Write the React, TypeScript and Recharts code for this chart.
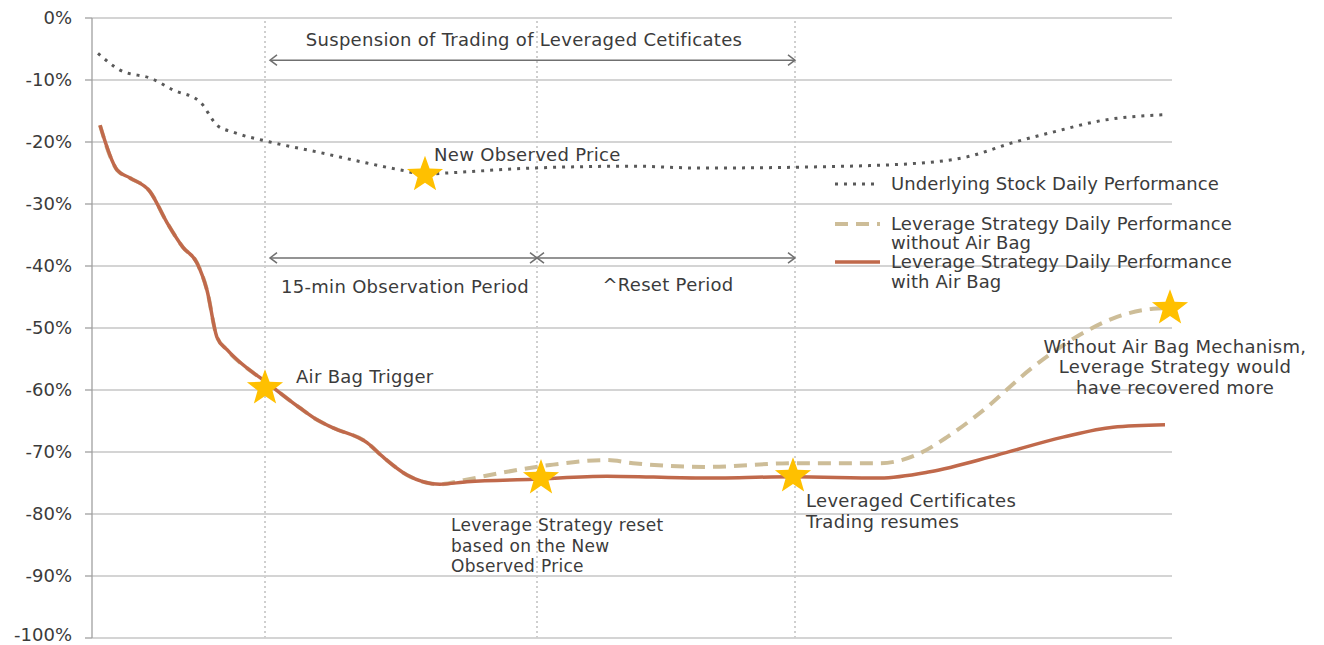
import React from "react";
import {
  ComposedChart,
  Line,
  Scatter,
  XAxis,
  YAxis,
  CartesianGrid,
  ReferenceLine,
  ReferenceDot,
  Legend
} from "recharts";

// x is a time step (no axis shown), y is daily performance in %
const Y_TICKS = [0, -10, -20, -30, -40, -50, -60, -70, -80, -90, -100];

const UNDERLYING_T = [0.6, 2.8, 6.0, 8.1, 10.8, 12.5, 14.1, 17.8, 22.5, 27.5, 30.8, 33.3, 35.5, 44.1, 54.1, 60.8, 72.8, 82.8, 87.5, 92.1, 96.1, 101.1, 107.3];
const UNDERLYING_V = [-5.7, -8.4, -9.8, -11.6, -13.5, -17.3, -18.4, -20.0, -21.6, -23.4, -24.5, -25.2, -25.0, -24.2, -23.9, -24.2, -24.0, -23.4, -22.4, -20.1, -18.4, -16.5, -15.6];

const AIRBAG_T = [0.8, 2.5, 3.8, 5.8, 7.5, 9.1, 10.5, 11.5, 12.5, 13.5, 17.8, 20.8, 22.5, 24.1, 27.5, 29.1, 31.5, 34.8, 37.5, 44.1, 51.5, 60.8, 70.1, 78.8, 83.8, 90.5, 97.1, 102.1, 107.3];
const AIRBAG_V = [-17.3, -24.5, -25.8, -28.0, -33.0, -37.0, -39.5, -43.9, -51.5, -53.5, -59.2, -62.9, -64.8, -66.1, -68.5, -70.8, -73.7, -75.2, -74.8, -74.4, -73.9, -74.2, -74.0, -74.2, -73.2, -70.5, -67.6, -66.0, -65.6];

const NO_AIRBAG_T = [0.8, 2.5, 3.8, 5.8, 7.5, 9.1, 10.5, 11.5, 12.5, 13.5, 17.8, 20.8, 22.5, 24.1, 27.5, 29.1, 31.5, 34.8, 37.3, 40.8, 45.8, 51.5, 54.1, 61.5, 70.1, 78.8, 82.8, 85.5, 88.8, 94.1, 99.1, 102.5, 106.1, 107.3];
const NO_AIRBAG_V = [-17.3, -24.5, -25.8, -28.0, -33.0, -37.0, -39.5, -43.9, -51.5, -53.5, -59.2, -62.9, -64.8, -66.1, -68.5, -70.8, -73.7, -75.2, -74.5, -73.4, -72.1, -71.3, -71.8, -72.4, -71.8, -71.8, -70.2, -67.6, -63.7, -56.3, -50.8, -48.2, -46.9, -46.8];

const STAR_T = [17.3, 33.3, 44.9, 70.1, 107.8];
const STAR_V = [-59.7, -25.3, -74.2, -73.9, -46.8];

// trigger, reset, trading resumes
const EVENT_T = [17.3, 44.5, 70.3];

const SERIES_NAMES = [
  "Underlying Stock Daily Performance",
  "Leverage Strategy Daily Performance\nwithout Air Bag",
  "Leverage Strategy Daily Performance\nwith Air Bag"
];

const zip = (ts: number[], vs: number[]) => ts.map((t, i) => ({ t, v: vs[i] }));
const underlying = zip(UNDERLYING_T, UNDERLYING_V);
const withAirBag = zip(AIRBAG_T, AIRBAG_V);
const withoutAirBag = zip(NO_AIRBAG_T, NO_AIRBAG_V);
const stars = zip(STAR_T, STAR_V);

const FONT = "'DejaVu Sans', Verdana, sans-serif";
const TEXT = "#3b3b3b";

interface Note {
  t: number;
  v: number;
  lines: string[];
  anchor: "start" | "middle" | "end";
  size?: number;
}

const NOTES: Note[] = [
  { t: 43.2, v: -4.5, lines: ["Suspension of Trading of Leveraged Cetificates"], anchor: "middle" },
  { t: 34.2, v: -23.1, lines: ["New Observed Price"], anchor: "start" },
  { t: 31.3, v: -44.4, lines: ["15-min Observation Period"], anchor: "middle" },
  { t: 57.6, v: -44.0, lines: ["^Reset Period"], anchor: "middle" },
  { t: 20.4, v: -58.9, lines: ["Air Bag Trigger"], anchor: "start" },
  { t: 35.9, v: -82.8, lines: ["Leverage Strategy reset", "based on the New", "Observed Price"], anchor: "start", size: 17 },
  { t: 71.4, v: -78.9, lines: ["Leveraged Certificates", "Trading resumes"], anchor: "start" },
  { t: 108.3, v: -54.0, lines: ["Without Air Bag Mechanism,", "Leverage Strategy would", "have recovered more"], anchor: "middle" }
];

const ARROWS = [
  { from: 17.8, to: 70.3, v: -6.8 },
  { from: 17.8, to: 44.5, v: -38.7 },
  { from: 44.5, to: 70.3, v: -38.7 }
];

function Star({ cx, cy }: any) {
  const pts: string[] = [];
  for (let i = 0; i < 10; i++) {
    const r = i % 2 === 0 ? 19 : 7.8;
    const a = -Math.PI / 2 + (i * Math.PI) / 5;
    pts.push(`${cx + r * Math.cos(a)},${cy + r * Math.sin(a)}`);
  }
  return <polygon points={pts.join(" ")} fill="#FFC000" />;
}

function DoubleArrow({ x1, y1, x2, y2 }: any) {
  const h = 7;
  return (
    <g stroke="#707070" strokeWidth={1.5} fill="none">
      <line x1={x1} y1={y1} x2={x2} y2={y2} />
      <polyline points={`${x1 + h},${y1 - h * 0.75} ${x1},${y1} ${x1 + h},${y1 + h * 0.75}`} />
      <polyline points={`${x2 - h},${y2 - h * 0.75} ${x2},${y2} ${x2 - h},${y2 + h * 0.75}`} />
    </g>
  );
}

function NoteText({ cx, cy, note }: any) {
  return (
    <text
      x={cx}
      y={cy}
      textAnchor={note.anchor}
      fontFamily={FONT}
      fontSize={note.size || 18}
      letterSpacing={0.3}
      fill={TEXT}
    >
      {note.lines.map((s: string, i: number) => (
        <tspan key={i} x={cx} dy={i === 0 ? 0 : 20.5}>
          {s}
        </tspan>
      ))}
    </text>
  );
}

function LegendBox({ payload }: any) {
  const rows = [
    { y: 14, dy: 0 },
    { y: 54, dy: 19 },
    { y: 92, dy: 20 }
  ];
  const items = SERIES_NAMES.map((n) => (payload || []).find((p: any) => p.value === n)).filter(Boolean);
  return (
    <svg width={440} height={130}>
      {items.map((p: any, i: number) => {
        const row = rows[i];
        const lines = String(p.value).split("\n");
        const props = p.payload || {};
        return (
          <g key={i}>
            <line
              x1={2}
              x2={47}
              y1={row.y}
              y2={row.y}
              stroke={p.color}
              strokeWidth={props.strokeWidth}
              strokeDasharray={props.strokeDasharray}
            />
            <text x={58} y={row.y + 6} fontFamily={FONT} fontSize={18} letterSpacing={0.1} fill={TEXT}>
              {lines.map((s, j) => (
                <tspan key={j} x={58} dy={j === 0 ? 0 : row.dy}>
                  {s}
                </tspan>
              ))}
            </text>
          </g>
        );
      })}
    </svg>
  );
}

export default function App() {
  return (
    <div style={{ position: "absolute", left: 0, top: 0, background: "#fff" }}>
      <ComposedChart width={1324} height={645} margin={{ top: 18, right: 152, bottom: 7, left: 0 }}>
        <CartesianGrid vertical={false} stroke="#c6c6c6" strokeWidth={1.3} />
        <XAxis dataKey="t" type="number" domain={[0, 108]} hide />
        <YAxis
          type="number"
          domain={[-100, 0]}
          ticks={Y_TICKS}
          width={92}
          tickFormatter={(v) => `${v}%`}
          axisLine={{ stroke: "#a0a0a0", strokeWidth: 1.3 }}
          tickLine={{ stroke: "#a0a0a0", strokeWidth: 1.3 }}
          tickSize={7}
          tickMargin={13}
          tick={{ fontFamily: FONT, fontSize: 18, fill: TEXT }}
        />
        {EVENT_T.map((t) => (
          <ReferenceLine key={t} x={t} stroke="#cfcfcf" strokeWidth={2} strokeDasharray="2 3" />
        ))}
        {ARROWS.map((a, i) => (
          <ReferenceLine
            key={`arrow-${i}`}
            segment={[
              { x: a.from, y: a.v },
              { x: a.to, y: a.v }
            ]}
            shape={(p: any) => <DoubleArrow {...p} />}
          />
        ))}
        <Line
          data={underlying}
          dataKey="v"
          name={SERIES_NAMES[0]}
          type="monotone"
          stroke="#595959"
          strokeWidth={3}
          strokeDasharray="3 6"
          dot={false}
          isAnimationActive={false}
        />
        <Line
          data={withoutAirBag}
          dataKey="v"
          name={SERIES_NAMES[1]}
          type="monotone"
          stroke="#cdbd98"
          strokeWidth={4}
          strokeDasharray="13 8"
          dot={false}
          isAnimationActive={false}
        />
        <Line
          data={withAirBag}
          dataKey="v"
          name={SERIES_NAMES[2]}
          type="monotone"
          stroke="#c0694b"
          strokeWidth={3.5}
          dot={false}
          isAnimationActive={false}
        />
        <Scatter
          data={stars}
          dataKey="v"
          shape={(p: any) => <Star {...p} />}
          legendType="none"
          isAnimationActive={false}
        />
        {NOTES.map((n, i) => (
          <ReferenceDot
            key={`note-${i}`}
            x={n.t}
            y={n.v}
            r={1}
            ifOverflow="visible"
            shape={(p: any) => <NoteText {...p} note={n} />}
          />
        ))}
        <Legend
          layout="vertical"
          align="center"
          verticalAlign="middle"
          content={<LegendBox />}
          wrapperStyle={{ left: 833, top: 170, width: 440, height: 130 }}
        />
      </ComposedChart>
    </div>
  );
}
